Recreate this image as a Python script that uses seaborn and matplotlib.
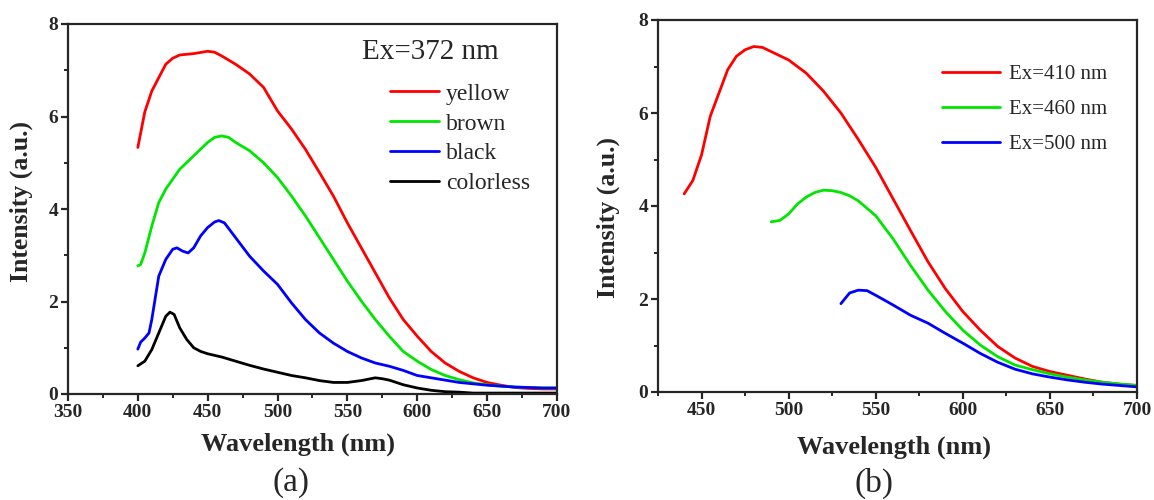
import numpy as np
import pandas as pd
import matplotlib
matplotlib.use("Agg")
import matplotlib.pyplot as plt
import seaborn as sns
from matplotlib.ticker import MultipleLocator

# ---- Panel (a): Ex = 372 nm ----
wl_yellow = [400, 405, 410, 415, 420, 425, 430, 440, 450, 455, 460, 470, 480, 490, 500, 510, 520, 530, 540, 550,
             560, 570, 580, 590, 600, 610, 620, 630, 640, 650, 660, 670, 680, 690, 700]
yellow = [5.33, 6.10, 6.55, 6.84, 7.13, 7.26, 7.33, 7.36, 7.41, 7.39, 7.31, 7.13, 6.92, 6.63, 6.12, 5.73, 5.29, 4.79,
          4.28, 3.70, 3.16, 2.62, 2.08, 1.61, 1.25, 0.92, 0.67, 0.49, 0.35, 0.25, 0.19, 0.14, 0.12, 0.11, 0.11]

wl_brown = [400, 402, 405, 410, 415, 420, 430, 440, 450, 455, 460, 465, 470, 480, 490, 500, 510, 520, 530, 540, 550,
            560, 570, 580, 590, 600, 610, 620, 630, 640, 650, 660, 670, 680, 690, 700]
brown = [2.77, 2.80, 3.05, 3.63, 4.14, 4.43, 4.86, 5.15, 5.44, 5.55, 5.58, 5.55, 5.44, 5.26, 5.00, 4.68, 4.28, 3.85,
         3.38, 2.91, 2.44, 2.01, 1.61, 1.25, 0.92, 0.71, 0.53, 0.40, 0.31, 0.24, 0.20, 0.17, 0.15, 0.14, 0.13, 0.13]

wl_black = [400, 402, 405, 408, 410, 415, 420, 425, 428, 432, 436, 440, 445, 450, 455, 458, 462, 470, 480, 490, 500,
            510, 520, 530, 540, 550, 560, 570, 580, 590, 600, 610, 620, 630, 640, 650, 660, 670, 680, 690, 700]
black = [0.97, 1.12, 1.21, 1.32, 1.61, 2.55, 2.91, 3.13, 3.16, 3.09, 3.05, 3.16, 3.42, 3.60, 3.72, 3.75, 3.70, 3.38,
         2.98, 2.66, 2.37, 1.97, 1.61, 1.32, 1.10, 0.92, 0.78, 0.67, 0.60, 0.51, 0.40, 0.35, 0.30, 0.25, 0.22, 0.19,
         0.17, 0.15, 0.14, 0.13, 0.13]

wl_colorless = [400, 405, 410, 415, 420, 423, 426, 430, 435, 440, 445, 450, 460, 470, 480, 490, 500, 510, 520, 530,
                540, 550, 560, 570, 575, 580, 590, 600, 610, 620, 630, 640, 660, 680, 700]
colorless = [0.61, 0.71, 0.96, 1.32, 1.68, 1.77, 1.72, 1.43, 1.18, 1.00, 0.92, 0.87, 0.80, 0.71, 0.62, 0.54, 0.47,
             0.40, 0.35, 0.29, 0.25, 0.25, 0.29, 0.35, 0.33, 0.30, 0.20, 0.13, 0.08, 0.05, 0.04, 0.02, 0.02, 0.02, 0.02]

# ---- Panel (b): different excitations ----
wl_ex410 = [440, 445, 450, 455, 460, 465, 470, 475, 480, 485, 490, 500, 510, 520, 530, 540, 550, 560, 570, 580, 590,
            600, 610, 620, 630, 640, 650, 660, 670, 680, 690, 700]
ex410 = [4.26, 4.55, 5.10, 5.93, 6.43, 6.93, 7.22, 7.36, 7.43, 7.41, 7.32, 7.14, 6.86, 6.47, 6.00, 5.43, 4.83, 4.15,
         3.47, 2.80, 2.22, 1.73, 1.33, 0.98, 0.73, 0.55, 0.44, 0.36, 0.28, 0.21, 0.17, 0.14]

wl_ex460 = [490, 495, 500, 505, 510, 515, 520, 525, 530, 535, 540, 550, 560, 570, 580, 590, 600, 610, 620, 630, 640,
            650, 660, 670, 680, 690, 700]
ex460 = [3.66, 3.69, 3.83, 4.04, 4.19, 4.29, 4.34, 4.33, 4.29, 4.22, 4.11, 3.79, 3.29, 2.72, 2.19, 1.73, 1.33, 1.01,
         0.76, 0.58, 0.48, 0.39, 0.32, 0.26, 0.21, 0.17, 0.14]

wl_ex500 = [530, 535, 540, 545, 550, 560, 570, 580, 590, 600, 610, 620, 630, 640, 650, 660, 670, 680, 690, 700]
ex500 = [1.90, 2.13, 2.19, 2.18, 2.08, 1.87, 1.65, 1.48, 1.26, 1.05, 0.83, 0.64, 0.49, 0.39, 0.32, 0.26, 0.21, 0.17,
         0.14, 0.11]

labels_a = ["yellow", "brown", "black", "colorless"]
colors_a = ["#ff0000", "#00e600", "#0000ff", "#000000"]
labels_b = ["Ex=410 nm", "Ex=460 nm", "Ex=500 nm"]
colors_b = ["#ff0000", "#00e600", "#0000ff"]
xticks_a = [350, 400, 450, 500, 550, 600, 650, 700]
xticks_b = [450, 500, 550, 600, 650, 700]
yticks = [0, 2, 4, 6, 8]

df_a = pd.concat([
    pd.DataFrame({"wl": wl_yellow, "I": yellow, "s": "yellow"}),
    pd.DataFrame({"wl": wl_brown, "I": brown, "s": "brown"}),
    pd.DataFrame({"wl": wl_black, "I": black, "s": "black"}),
    pd.DataFrame({"wl": wl_colorless, "I": colorless, "s": "colorless"}),
])
df_b = pd.concat([
    pd.DataFrame({"wl": wl_ex410, "I": ex410, "s": labels_b[0]}),
    pd.DataFrame({"wl": wl_ex460, "I": ex460, "s": labels_b[1]}),
    pd.DataFrame({"wl": wl_ex500, "I": ex500, "s": labels_b[2]}),
])

sns.set_style("ticks")
plt.rcParams["font.family"] = ["Liberation Serif", "DejaVu Serif"]
plt.rcParams["axes.linewidth"] = 1.6

fig = plt.figure(figsize=(11.54, 5.0), dpi=100)
ax1 = fig.add_axes([0.0589, 0.212, 0.4237, 0.740])
ax2 = fig.add_axes([0.5702, 0.216, 0.4151, 0.744])

sns.lineplot(data=df_a, x="wl", y="I", hue="s", hue_order=labels_a, palette=colors_a,
             linewidth=2.0, ax=ax1, sort=False, estimator=None)
sns.lineplot(data=df_b, x="wl", y="I", hue="s", hue_order=labels_b, palette=colors_b,
             linewidth=2.0, ax=ax2, sort=False, estimator=None)

ax1.set_xlim(350, 700)
ax2.set_xlim(425, 700)
ax1.set_xticks(xticks_a)
ax2.set_xticks(xticks_b)

for ax in (ax1, ax2):
    ax.set_ylim(0, 8)
    ax.set_yticks(yticks)
    ax.yaxis.set_minor_locator(MultipleLocator(1))
    ax.xaxis.set_minor_locator(MultipleLocator(25))
    ax.tick_params(which="major", direction="out", length=5, width=1.6, labelsize=14, pad=2)
    ax.tick_params(which="minor", direction="out", length=3, width=1.4)
    for lab in ax.get_xticklabels() + ax.get_yticklabels():
        lab.set_fontweight("bold")
    for sp in ax.spines.values():
        sp.set_visible(True)
        sp.set_linewidth(1.6)
    ax.set_ylabel("Intensity (a.u.)", fontsize=18.5, fontweight="bold")
    ax.set_xlabel("Wavelength (nm)", fontsize=19, fontweight="bold")
    ax.xaxis.label.set_va("top")

ax1.xaxis.set_label_coords(0.470, -0.105, transform=ax1.transAxes)
ax2.xaxis.set_label_coords(0.493, -0.118, transform=ax2.transAxes)
ax1.yaxis.set_label_coords(-0.072, 0.52, transform=ax1.transAxes)
ax2.yaxis.set_label_coords(-0.079, 0.47, transform=ax2.transAxes)

# Panel (a) legend: title text placed above the entries
ax1.text(0.601, 0.924, "Ex=372 nm", transform=ax1.transAxes, fontsize=21, ha="left", va="center")
leg1 = ax1.legend(frameon=False, fontsize=17, loc="upper left", bbox_to_anchor=(0.658, 0.84),
                  borderpad=0, borderaxespad=0, handlelength=2.07,
                  handletextpad=0.3, labelspacing=0.35)
for h in leg1.get_lines():
    h.set_linewidth(2.0)

leg2 = ax2.legend(frameon=False, fontsize=15, loc="upper left", bbox_to_anchor=(0.593, 0.881),
                  borderpad=0, borderaxespad=0, handlelength=2.8, handletextpad=0.4, labelspacing=0.75)
for h in leg2.get_lines():
    h.set_linewidth(2.0)

fig.text(0.252, 0.005, "(a)", fontsize=24, ha="center", va="bottom")
fig.text(0.757, 0.002, "(b)", fontsize=24, ha="center", va="bottom")

fig.savefig("out.png", dpi=100)
